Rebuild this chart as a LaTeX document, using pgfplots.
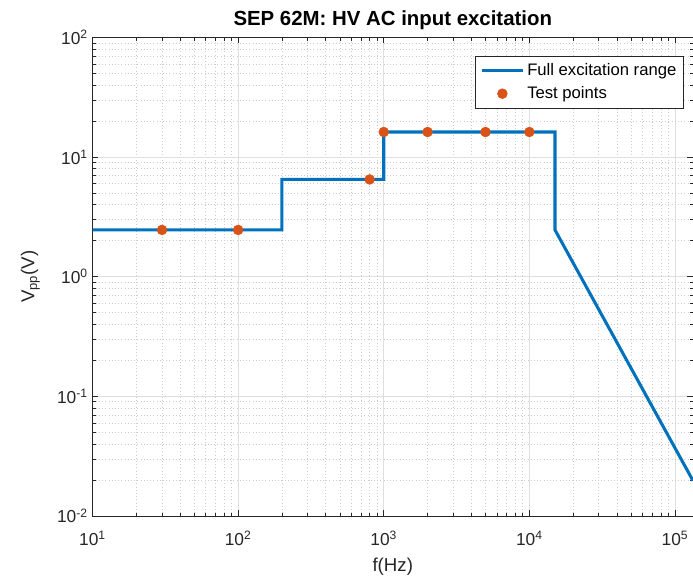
\documentclass[border=0pt]{standalone}
\usepackage{fontspec}
\setmainfont{Liberation Sans}
\usepackage{pgfplots}
\pgfplotsset{compat=1.18}
\usetikzlibrary{calc}
\definecolor{mblue}{rgb}{0,0.447,0.741}
\definecolor{morange}{rgb}{0.85,0.325,0.098}
\definecolor{maxis}{rgb}{0.15,0.15,0.15}

\begin{document}
\begin{tikzpicture}
\begin{axis}[
    scale only axis,
    width=450.4pt, height=358.9pt,
    xmode=log, ymode=log,
    xmin=10, xmax=1.33e5, ymin=0.01, ymax=100,
    xtick={10,100,1000,10000,100000},
    xticklabels={10\textsuperscript{1},10\textsuperscript{2},10\textsuperscript{3},10\textsuperscript{4},10\textsuperscript{5}},
    ytick={0.01,0.1,1,10,100},
    yticklabels={10\textsuperscript{-2},10\textsuperscript{-1},10\textsuperscript{0},10\textsuperscript{1},10\textsuperscript{2}},
    minor xtick={20,30,40,50,60,70,80,90,200,300,400,500,600,700,800,900,2000,3000,4000,5000,6000,7000,8000,9000,20000,30000,40000,50000,60000,70000,80000,90000},
    minor ytick={0.02,0.03,0.04,0.05,0.06,0.07,0.08,0.09,0.2,0.3,0.4,0.5,0.6,0.7,0.8,0.9,2,3,4,5,6,7,8,9,20,30,40,50,60,70,80,90},
    grid=both,
    major grid style={gray!25, line width=0.5pt},
    minor grid style={gray!40, dotted, line width=0.5pt},
    axis line style={maxis, line width=0.6pt},
    tick style={maxis, line width=0.5pt},
    major tick length=4.5pt, minor tick length=2.5pt,
    tick align=inside,
    ticklabel style={font=\fontsize{13}{15}\selectfont, text=maxis},
    xticklabel style={yshift=-8pt},
    title={\bfseries SEP 62M: HV AC input excitation},
    title style={font=\fontsize{15.3}{18}\selectfont, yshift=-4pt},
    xlabel={f(Hz)},
    ylabel={V\textsubscript{pp}(V)},
    label style={font=\fontsize{14}{17}\selectfont, text=maxis},
    xlabel style={yshift=-2.5pt},
    ylabel style={yshift=6pt},
    legend style={at={(0.985,0.962)}, anchor=north east, draw=maxis,
        font=\fontsize{12.5}{15}\selectfont, row sep=3pt, inner sep=3.5pt},
    legend cell align=left,
    legend image code/.code={\draw[mark repeat=2,mark phase=2,#1]
        plot coordinates {(0pt,0pt) (15.5pt,0pt) (31pt,0pt)};},
]
\addplot[mblue, line width=2.3pt] coordinates {
    (10,2.46) (200,2.46) (200,6.5) (1000,6.5) (1000,16.2)
    (15000,16.2) (15000,2.46) (133000,0.0197)
};
\addlegendentry{Full excitation range}
\addplot[only marks, mark=*, mark size=3.7pt, mark options={fill=morange, draw=morange}] coordinates {
    (30,2.46) (100,2.46) (800,6.5) (1000,16.2) (2000,16.2) (5000,16.2) (10000,16.2)
};
\addlegendentry{Test points}
\coordinate (bl) at (rel axis cs:0,0);
\coordinate (tr) at (rel axis cs:1,1);
\end{axis}
\pgfresetboundingbox
\useasboundingbox ($(bl)+(-69.4pt,-48.75pt)$) rectangle ($(tr)+(0pt,28.1pt)$);
\end{tikzpicture}
\end{document}
